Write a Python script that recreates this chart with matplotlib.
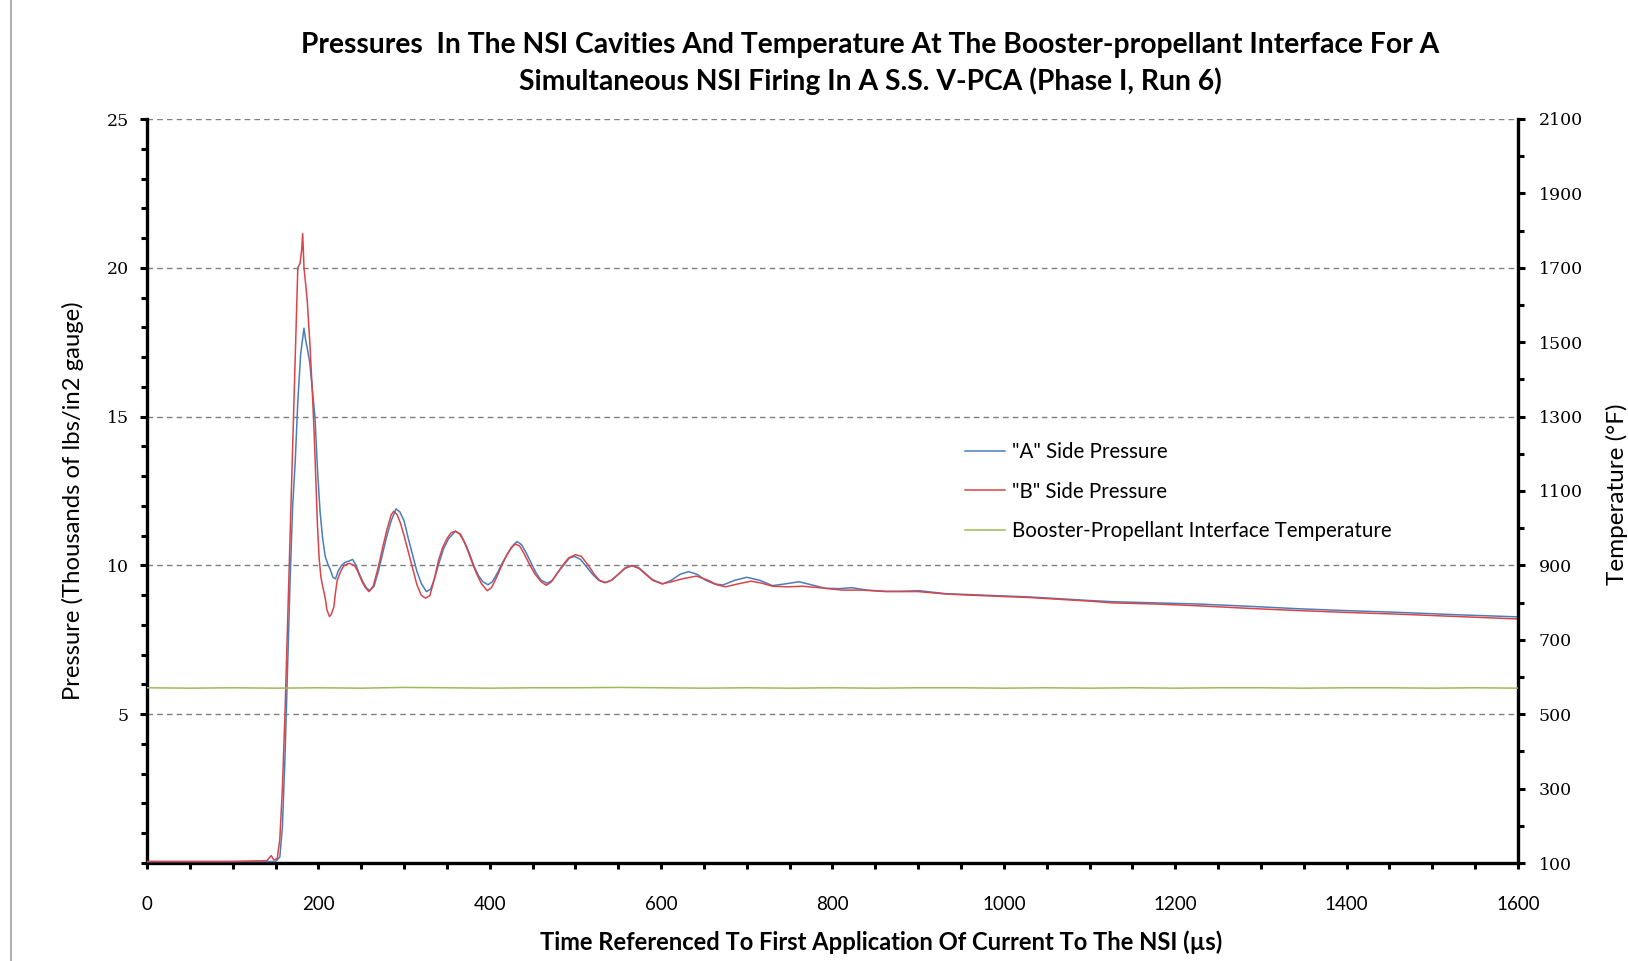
import matplotlib
matplotlib.use("Agg")
import matplotlib.pyplot as plt
from matplotlib.ticker import MultipleLocator, FixedLocator
from matplotlib.lines import Line2D

# ---------------- data ----------------
time_b = [0, 50, 100, 140, 145, 148, 152, 155, 158, 161, 164, 167, 170, 173, 176, 178.6, 180.5, 181.7, 183.2,
          185, 187, 190, 193, 195, 197, 199, 201, 203, 205, 208, 210, 213, 215, 218, 220, 222, 226, 230, 236,
          242, 246, 251, 255, 259, 264, 270, 275, 280, 285, 288, 292, 296, 300, 305, 310, 315, 320, 325, 330,
          335, 340, 345, 350, 355, 360, 365, 370, 375, 380, 385, 390, 397, 402, 408, 414, 420, 425, 430, 435,
          440, 447, 453, 460, 466, 472, 478, 485, 492, 500, 507, 515, 522, 528, 535, 542, 550, 558, 566, 574,
          582, 590, 601, 612, 625, 641, 655, 665, 675, 690, 705, 718, 730, 748, 765, 785, 811, 835, 862, 900,
          932, 960, 994, 1030, 1064, 1100, 1127, 1180, 1229, 1290, 1346, 1400, 1462, 1530, 1600]
pressure_b = [0.05, 0.05, 0.05, 0.08, 0.25, 0.1, 0.15, 0.8, 2.5, 5.0, 8.0, 11.0, 14.0, 17.0, 20.0, 20.15, 20.6,
              21.15, 20.0, 19.5, 18.9, 17.5, 15.8, 14.5, 12.9, 11.3, 10.2, 9.6, 9.3, 8.9, 8.5, 8.28, 8.35, 8.6,
              9.1, 9.5, 9.8, 10.0, 10.07, 10.0, 9.8, 9.45, 9.25, 9.12, 9.3, 9.95, 10.6, 11.2, 11.7, 11.82, 11.7,
              11.4, 11.0, 10.45, 9.9, 9.35, 9.0, 8.9, 8.98, 9.5, 10.15, 10.6, 10.9, 11.1, 11.15, 11.05, 10.8,
              10.45, 10.05, 9.7, 9.4, 9.15, 9.25, 9.6, 10.0, 10.35, 10.6, 10.72, 10.65, 10.4, 10.0, 9.7, 9.45,
              9.33, 9.45, 9.7, 10.0, 10.25, 10.36, 10.3, 10.0, 9.7, 9.5, 9.42, 9.5, 9.7, 9.9, 9.99, 9.9, 9.7,
              9.5, 9.38, 9.45, 9.55, 9.64, 9.5, 9.35, 9.28, 9.38, 9.47, 9.4, 9.3, 9.28, 9.3, 9.25, 9.17, 9.17,
              9.12, 9.12, 9.04, 9.0, 8.96, 8.92, 8.86, 8.8, 8.74, 8.7, 8.64, 8.55, 8.48, 8.42, 8.36, 8.28, 8.2]

time_a = [0, 100, 150, 155, 158, 161, 164, 167, 170, 173, 176, 179.3, 181.5, 183.2, 185, 187, 190, 193, 196,
          199, 202, 205, 208, 211, 214, 217, 220, 223, 227, 231, 236, 240, 244, 248, 252, 256, 260, 265, 270,
          275, 280, 285, 290.6, 295, 300, 305, 310, 315, 320, 326, 331, 336, 341, 346, 352, 360, 366, 372, 377,
          382, 387, 392, 398, 403, 409, 415, 421, 428, 432, 437, 442, 448, 454, 460, 467, 473, 479, 486, 493,
          499, 506, 513, 520, 527, 534, 542, 550, 558, 566, 574, 582, 590, 602, 612, 622, 632, 642, 652, 662,
          672, 686, 700, 715, 730, 745, 761, 775, 792, 808, 823, 840, 862, 880, 901, 932, 960, 994, 1030, 1064,
          1100, 1127, 1180, 1229, 1290, 1346, 1400, 1462, 1530, 1600]
pressure_a = [0.05, 0.05, 0.05, 0.2, 1.2, 3.5, 6.5, 9.5, 12.0, 13.5, 15.5, 17.1, 17.6, 17.97, 17.6, 17.3, 16.8,
              15.9, 15.0, 13.2, 11.8, 10.9, 10.3, 10.05, 9.85, 9.6, 9.55, 9.8, 10.0, 10.1, 10.15, 10.2, 10.0,
              9.7, 9.45, 9.25, 9.15, 9.3, 9.8, 10.4, 11.0, 11.5, 11.9, 11.8, 11.5, 10.9, 10.35, 9.8, 9.4, 9.12,
              9.2, 9.6, 10.1, 10.55, 10.9, 11.15, 11.05, 10.7, 10.35, 9.95, 9.65, 9.45, 9.35, 9.45, 9.75, 10.1,
              10.4, 10.7, 10.8, 10.7, 10.45, 10.1, 9.75, 9.5, 9.4, 9.5, 9.75, 10.0, 10.25, 10.3, 10.2, 9.95, 9.7,
              9.5, 9.42, 9.5, 9.7, 9.92, 10.0, 9.92, 9.72, 9.52, 9.38, 9.5, 9.7, 9.79, 9.7, 9.5, 9.38, 9.34, 9.5,
              9.6, 9.5, 9.32, 9.38, 9.45, 9.35, 9.23, 9.22, 9.25, 9.17, 9.13, 9.13, 9.15, 9.05, 9.02, 8.98, 8.94,
              8.88, 8.82, 8.78, 8.74, 8.7, 8.62, 8.54, 8.48, 8.42, 8.34, 8.27]

time_t = [0, 50, 100, 150, 200, 250, 300, 350, 400, 450, 500, 550, 600, 650, 700, 750, 800, 850, 900, 950,
          1000, 1050, 1100, 1150, 1200, 1250, 1300, 1350, 1400, 1450, 1500, 1550, 1600]
temperature = [571, 570, 571, 570, 571, 570, 572, 571, 570, 571, 571, 572, 571, 570, 571, 570, 571, 570, 571,
               571, 570, 571, 570, 571, 570, 571, 571, 570, 571, 571, 570, 571, 570]

x_ticks = [0, 200, 400, 600, 800, 1000, 1200, 1400, 1600]
p_ticks = [5, 10, 15, 20, 25]
t_ticks = [100, 300, 500, 700, 900, 1100, 1300, 1500, 1700, 1900, 2100]

title = ("Pressures  In The NSI Cavities And Temperature At The Booster-propellant Interface For A\n"
         "Simultaneous NSI Firing In A S.S. V-PCA (Phase I, Run 6)")
xlabel = "Time Referenced To First Application Of Current To The NSI (\u00b5s)"
ylabel_left = "Pressure (Thousands of lbs/in2 gauge)"
ylabel_right = "Temperature (\u00b0F)"
labels = ['"A" Side Pressure', '"B" Side Pressure', 'Booster-Propellant Interface Temperature']

# ---------------- layout ----------------
W, H = 1628, 961
fig = plt.figure(figsize=(W / 100, H / 100), dpi=100)
fig.patch.set_facecolor("white")
L, R, T, B = 147, 1518, 119, 863
ax = fig.add_axes([L / W, 1 - B / H, (R - L) / W, (B - T) / H])
ax2 = ax.twinx()

c_a, c_b, c_t = "#4A7EBB", "#D9454A", "#9BBB59"
ax.plot(time_a, pressure_a, color=c_a, lw=1.1, zorder=3)
ax.plot(time_b, pressure_b, color=c_b, lw=1.1, zorder=4)
ax2.plot(time_t, temperature, color=c_t, lw=1.1, zorder=3)

ax.set_xlim(0, 1600)
ax.set_ylim(0, 25)
ax2.set_ylim(100, 2100)

ax.xaxis.set_major_locator(FixedLocator(x_ticks))
ax.xaxis.set_minor_locator(MultipleLocator(50))
ax.yaxis.set_major_locator(FixedLocator(p_ticks))
ax.yaxis.set_minor_locator(MultipleLocator(1))
ax2.yaxis.set_major_locator(FixedLocator(t_ticks))
ax2.yaxis.set_minor_locator(MultipleLocator(100))

for a in (ax, ax2):
    for s in a.spines.values():
        s.set_linewidth(2.4)
        s.set_color("black")
    a.spines["top"].set_visible(False)
ax.spines["right"].set_visible(False)
ax2.spines["left"].set_visible(False)
ax2.spines["bottom"].set_visible(False)

ax.grid(False)
for p in p_ticks:
    ax.axhline(p, color="#7f7f7f", lw=1.0, ls=(0, (4, 3)), zorder=1)

serif = "DejaVu Serif"
sans = "Lato"
ax.tick_params(axis="y", which="both", direction="out", width=2.2, color="black", labelsize=12.5, pad=8)
ax.tick_params(axis="y", which="major", length=5)
ax.tick_params(axis="y", which="minor", length=4)
ax.tick_params(axis="x", which="both", direction="out", width=2.2, length=4, labelsize=13.5, pad=20)
ax2.tick_params(axis="y", which="both", direction="out", width=2.2, labelsize=12.5, pad=10)
ax2.tick_params(axis="y", which="major", length=5)
ax2.tick_params(axis="y", which="minor", length=4)
ax.set_yticklabels([str(p) for p in p_ticks], family=serif)
ax2.set_yticklabels([str(t) for t in t_ticks], family=serif)
ax.set_xticklabels([str(x) for x in x_ticks], family=sans)

fig.text(870 / W, 1 - 63.5 / H, title, ha="center", va="center", fontsize=20.3, fontweight="bold",
         family=sans, linespacing=1.4)
fig.text(881 / W, 1 - 942 / H, xlabel, ha="center", va="center", fontsize=17.1, fontweight="bold", family=sans)
fig.text(73 / W, 1 - 501 / H, ylabel_left, ha="center", va="center", rotation=90, fontsize=17.2, family=sans)
fig.text(1617 / W, 1 - 494 / H, ylabel_right, ha="center", va="center", rotation=90, fontsize=17.5, family=sans)

handles = [Line2D([], [], color=c_a, lw=1.1), Line2D([], [], color=c_b, lw=1.1), Line2D([], [], color=c_t, lw=1.1)]
leg = ax2.legend(handles, labels, loc="upper left", bbox_to_anchor=(955 / W, 1 - 432 / H),
                 bbox_transform=fig.transFigure, frameon=False, borderpad=0, handlelength=1.95,
                 handletextpad=0.3, labelspacing=0.94, prop={"family": sans, "size": 14.8})

# light chart-area border on the left
fig.add_artist(Line2D([11 / W, 11 / W], [0, 1], color="#b0b0b0", lw=1.5, transform=fig.transFigure))

fig.savefig("out.png", dpi=100, facecolor="white")
